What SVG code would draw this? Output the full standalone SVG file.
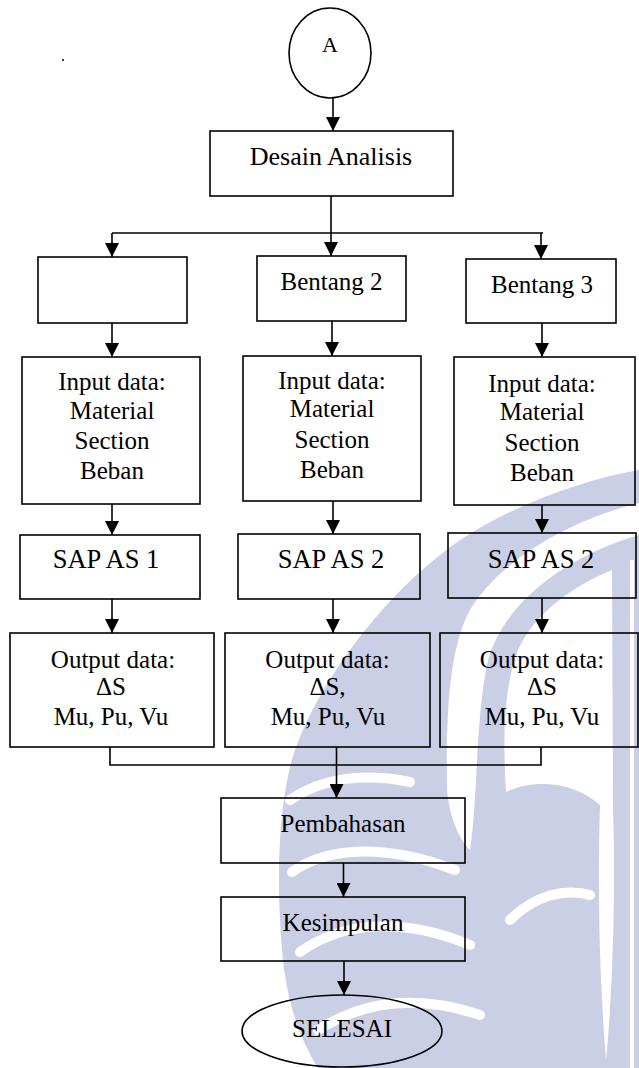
<svg xmlns="http://www.w3.org/2000/svg" width="639" height="1068" viewBox="0 0 639 1068">
<style>
  .box { fill: none; stroke: #000; stroke-width: 1.6; }
  .t { font-family: "Liberation Serif", "Times New Roman", serif; font-size: 25px; fill: #000; text-anchor: middle; }
  .conn { fill: none; stroke: #000; stroke-width: 1.6; }
  .wm { fill: #cbcfe6; }
  .gap { fill: #ffffff; }
  .vein { fill: none; stroke: #ffffff; stroke-linecap: round; stroke-width: 10; }
</style>
<defs>
  <marker id="arr" markerUnits="userSpaceOnUse" viewBox="0 0 14 14" refX="14" refY="7" markerWidth="14" markerHeight="14" orient="auto">
    <path d="M0,0 L14,7 L0,14 z" fill="#000"/>
  </marker>
</defs>
<rect width="639" height="1068" fill="#ffffff"/>

<g id="watermark">
  <path class="wm" d="M 639 470 C 570 482 490 515 440 555 C 380 602 320 680 295 750 C 278 800 276 880 282 950 C 286 1000 300 1040 318 1068 L 639 1068 Z"/>
  <path class="gap" d="M 639 503 C 570 520 500 560 470 610 C 448 650 446 720 447 790 C 450 820 460 840 470 850 C 478 800 475 720 488 660 C 505 600 570 555 639 535 Z"/>
  <path class="gap" d="M 612 570 C 575 585 535 612 518 650 C 503 690 503 740 506 792 C 535 778 575 782 600 805 C 598 870 598 960 606 1060 C 612 1000 616 900 613 805 Z"/>
  <rect class="gap" x="630" y="560" width="4" height="508"/>
  <path class="vein" d="M 290 800 C 320 780 360 772 410 782"/>
  <path class="vein" d="M 292 872 C 330 845 390 845 455 870"/>
  <path class="vein" d="M 300 952 C 345 920 405 918 470 945"/>
  <path class="vein" d="M 318 1030 C 365 1000 420 995 480 1015"/>
  <path class="vein" d="M 510 920 C 535 895 565 888 590 895"/>
</g>

<g id="connectors">
  <path class="conn" d="M333 98 V131" marker-end="url(#arr)"/>
  <path class="conn" d="M331 196 V256" marker-end="url(#arr)"/>
  <path class="conn" d="M112 233 H543"/>
  <path class="conn" d="M112 233 V257" marker-end="url(#arr)"/>
  <path class="conn" d="M541 233 V259" marker-end="url(#arr)"/>
  <path class="conn" d="M112 323 V357" marker-end="url(#arr)"/>
  <path class="conn" d="M332 321 V356" marker-end="url(#arr)"/>
  <path class="conn" d="M542 323 V357" marker-end="url(#arr)"/>
  <path class="conn" d="M112 504 V535" marker-end="url(#arr)"/>
  <path class="conn" d="M333 501 V534" marker-end="url(#arr)"/>
  <path class="conn" d="M542 505 V533" marker-end="url(#arr)"/>
  <path class="conn" d="M112 599 V633" marker-end="url(#arr)"/>
  <path class="conn" d="M333 599 V633" marker-end="url(#arr)"/>
  <path class="conn" d="M542 598 V633" marker-end="url(#arr)"/>
  <path class="conn" d="M110 747 V765 H541 V747"/>
  <path class="conn" d="M336.5 747 V798" marker-end="url(#arr)"/>
  <path class="conn" d="M343.5 863 V897" marker-end="url(#arr)"/>
  <path class="conn" d="M344 961 V995" marker-end="url(#arr)"/>
</g>

<circle cx="63" cy="60" r="1" fill="#000"/>

<g id="start">
  <ellipse class="box" cx="330" cy="53" rx="41" ry="45"/>
  <text class="t" x="330" y="52" style="font-size:22px">A</text>
</g>
<g id="desain">
  <rect class="box" x="210" y="131" width="243" height="65"/>
  <text class="t" x="331" y="165" style="font-size:26px">Desain Analisis</text>
</g>
<g id="bentang1">
  <rect class="box" x="38" y="257" width="149" height="66"/>
</g>
<g id="bentang2">
  <rect class="box" x="257" y="256" width="149" height="65"/>
  <text class="t" x="331.5" y="290">Bentang 2</text>
</g>
<g id="bentang3">
  <rect class="box" x="466" y="259" width="150" height="64"/>
  <text class="t" x="542" y="293">Bentang 3</text>
</g>
<g id="input1">
  <rect class="box" x="22" y="357" width="178" height="147"/>
  <text class="t"><tspan x="112" y="390">Input data:</tspan><tspan x="112" y="418.5">Material</tspan><tspan x="112" y="449">Section</tspan><tspan x="112" y="479">Beban</tspan></text>
</g>
<g id="input2">
  <rect class="box" x="243" y="356" width="178" height="145"/>
  <text class="t"><tspan x="332" y="388.5">Input data:</tspan><tspan x="332" y="417">Material</tspan><tspan x="332" y="447.5">Section</tspan><tspan x="332" y="477.5">Beban</tspan></text>
</g>
<g id="input3">
  <rect class="box" x="454" y="357" width="181" height="148"/>
  <text class="t"><tspan x="542" y="391.5">Input data:</tspan><tspan x="542" y="420">Material</tspan><tspan x="542" y="450.5">Section</tspan><tspan x="542" y="480.5">Beban</tspan></text>
</g>
<g id="sap1">
  <rect class="box" x="20" y="535" width="180" height="64"/>
  <text class="t" x="106" y="568" style="font-size:26.5px">SAP AS 1</text>
</g>
<g id="sap2">
  <rect class="box" x="238" y="534" width="182" height="65"/>
  <text class="t" x="331" y="568" style="font-size:26.5px">SAP AS 2</text>
</g>
<g id="sap3">
  <rect class="box" x="448" y="533" width="188" height="65"/>
  <text class="t" x="541" y="568" style="font-size:26.5px">SAP AS 2</text>
</g>
<g id="output1">
  <rect class="box" x="10" y="633" width="204" height="114"/>
  <text class="t"><tspan x="113" y="668">Output data:</tspan><tspan x="111" y="695">ΔS</tspan><tspan x="111" y="725">Mu, Pu, Vu</tspan></text>
</g>
<g id="output2">
  <rect class="box" x="225" y="633" width="205" height="114"/>
  <text class="t"><tspan x="327.5" y="668">Output data:</tspan><tspan x="327.5" y="695">ΔS,</tspan><tspan x="328" y="725">Mu, Pu, Vu</tspan></text>
</g>
<g id="output3">
  <rect class="box" x="440" y="633" width="198" height="114"/>
  <text class="t"><tspan x="542" y="668">Output data:</tspan><tspan x="542" y="695">ΔS</tspan><tspan x="542" y="725">Mu, Pu, Vu</tspan></text>
</g>
<g id="pembahasan">
  <rect class="box" x="221" y="798" width="244" height="65"/>
  <text class="t" x="343" y="832">Pembahasan</text>
</g>
<g id="kesimpulan">
  <rect class="box" x="221" y="897" width="244" height="64"/>
  <text class="t" x="343" y="930.5">Kesimpulan</text>
</g>
<g id="selesai">
  <ellipse class="box" cx="342" cy="1031" rx="100" ry="36"/>
  <text class="t" x="342" y="1037">SELESAI</text>
</g>
</svg>
